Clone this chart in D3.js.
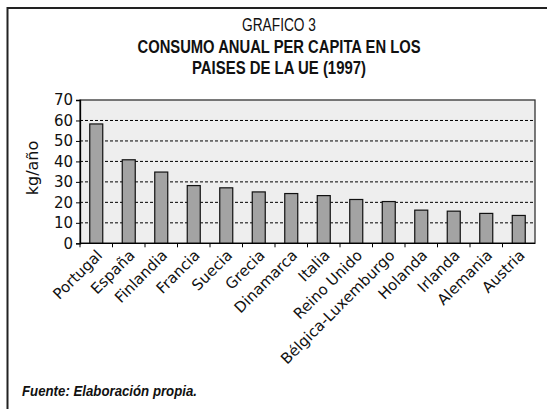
<!DOCTYPE html>
<html>
<head>
<meta charset="utf-8">
<script src="https://cdn.jsdelivr.net/npm/d3@7"></script>
<style>
body { margin: 0; background: #fff; }
</style>
</head>
<body>
<script>
// datos
var paises = ["Portugal", "España", "Finlandia", "Francia", "Suecia", "Grecia", "Dinamarca",
              "Italia", "Reino Unido", "Bélgica-Luxemburgo", "Holanda", "Irlanda", "Alemania", "Austria"];
var consumo = [58.3, 40.8, 34.8, 28.2, 27.1, 25.1, 24.3, 23.3, 21.4, 20.4, 16.2, 15.7, 14.6, 13.6];
var yTicks = [0, 10, 20, 30, 40, 50, 60, 70];
var titulo = ["GRAFICO 3", "CONSUMO ANUAL PER CAPITA EN LOS", "PAISES DE LA UE (1997)"];
var fuente = "Fuente: Elaboración propia.";

function main(){
    var width = 547, height = 409;
    var left = 80, right = 535, top = 100, bottom = 243.3;
    var narrow = "'Liberation Sans', Arial, sans-serif";
    // anchos del titulo (la fuente original es estrecha)
    var anchoTitulo = [74, 283, 174];

    var svg = d3.select("body").append("svg")
                .attr("width", width)
                .attr("height", height);

    // marco exterior
    svg.append("path")
        .attr("d", "M7.5," + height + "V8H" + width)
        .attr("fill", "none")
        .attr("stroke", "#222")
        .attr("stroke-width", 2);

    // titulos
    svg.selectAll("text.titulo")
        .data(titulo)
        .enter().append("text")
        .attr("class", "titulo")
        .attr("x", 279)
        .attr("y", function(d, i){ return 31 + i * 21.5; })
        .attr("text-anchor", "middle")
        .attr("textLength", function(d, i){ return anchoTitulo[i]; })
        .attr("lengthAdjust", "spacingAndGlyphs")
        .style("font-family", narrow)
        .style("font-size", "18px")
        .style("font-weight", function(d, i){ return i == 0 ? "normal" : "bold"; })
        .attr("fill", "#111")
        .text(function(d){ return d; });

    var xScale = d3.scaleBand()
                    .domain(paises)
                    .range([left, right])
                    .padding(0);
    var yScale = d3.scaleLinear()
                    .domain([0, 70])
                    .range([bottom, top]);

    // fondo del area
    svg.append("rect")
        .attr("x", left).attr("y", top)
        .attr("width", right - left).attr("height", bottom - top)
        .attr("fill", "#eeeeee")
        .attr("stroke", "#333")
        .attr("stroke-width", 1.3);

    // lineas de division punteadas
    svg.selectAll("line.grid")
        .data(yTicks.filter(function(d){ return d > 0 && d < 70; }))
        .enter().append("line")
        .attr("class", "grid")
        .attr("x1", left).attr("x2", right)
        .attr("y1", function(d){ return yScale(d); })
        .attr("y2", function(d){ return yScale(d); })
        .attr("stroke", "#000")
        .attr("stroke-width", 1)
        .attr("stroke-dasharray", "3,2");

    // barras
    var step = xScale.step();
    svg.selectAll("rect.bar")
        .data(consumo)
        .enter().append("rect")
        .attr("class", "bar")
        .attr("x", function(d, i){ return xScale(paises[i]) + step * 0.3; })
        .attr("y", function(d){ return yScale(d); })
        .attr("width", step * 0.4)
        .attr("height", function(d){ return bottom - yScale(d); })
        .attr("fill", "#a3a3a3")
        .attr("stroke", "#111")
        .attr("stroke-width", 1.2);

    // eje y
    var yAxis = svg.append("g")
        .attr("transform", "translate(" + left + ",0)")
        .call(d3.axisLeft(yScale).tickValues(yTicks).tickSize(4).tickPadding(3));
    yAxis.select(".domain").attr("stroke", "#000").attr("stroke-width", 1.3);
    yAxis.selectAll("text")
        .style("font-family", "'DejaVu Sans', sans-serif")
        .style("font-size", "15px")
        .attr("fill", "#111");

    // eje x
    var xAxis = svg.append("g")
        .attr("transform", "translate(0," + bottom + ")");
    xAxis.append("line")
        .attr("x1", left).attr("x2", right)
        .attr("stroke", "#000").attr("stroke-width", 1.3);
    xAxis.selectAll("line.tick")
        .data(paises)
        .enter().append("line")
        .attr("class", "tick")
        .attr("x1", function(d){ return xScale(d); })
        .attr("x2", function(d){ return xScale(d); })
        .attr("y1", 0).attr("y2", 4)
        .attr("stroke", "#000");
    xAxis.selectAll("text")
        .data(paises)
        .enter().append("text")
        .attr("transform", function(d){
            return "translate(" + (xScale(d) + step / 2 + 7) + ",13) rotate(-45)";
        })
        .attr("text-anchor", "end")
        .style("font-family", "'DejaVu Sans', sans-serif")
        .style("font-size", "15px")
        .attr("fill", "#111")
        .text(function(d){ return d; });

    // titulo eje y
    svg.append("text")
        .attr("transform", "translate(38,168) rotate(-90)")
        .attr("text-anchor", "middle")
        .style("font-family", "'DejaVu Sans', sans-serif")
        .style("font-size", "16px")
        .attr("fill", "#111")
        .text("kg/año");

    // fuente
    svg.append("text")
        .attr("x", 22).attr("y", 396)
        .attr("textLength", 175)
        .attr("lengthAdjust", "spacingAndGlyphs")
        .style("font-family", narrow)
        .style("font-size", "15px")
        .style("font-style", "italic")
        .style("font-weight", "bold")
        .attr("fill", "#111")
        .text(fuente);
}
main();
</script>
</body>
</html>
